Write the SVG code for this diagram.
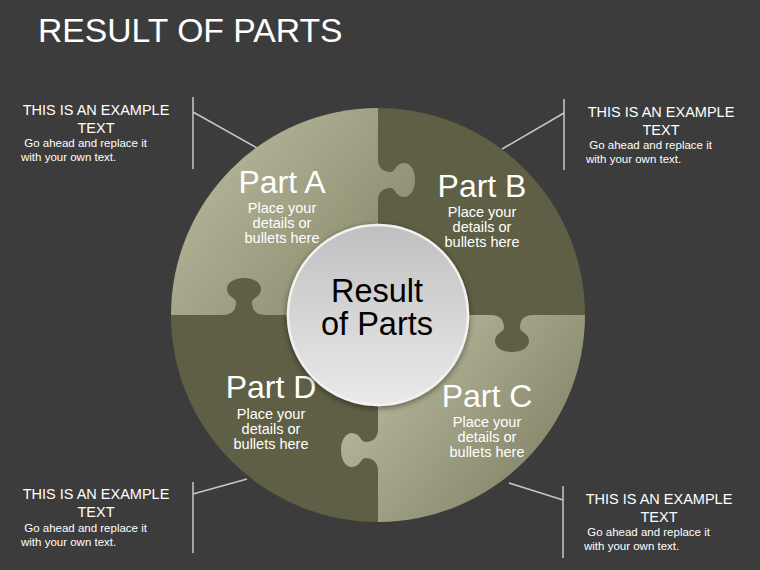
<svg xmlns="http://www.w3.org/2000/svg" width="760" height="570" viewBox="0 0 760 570">
<style>
text{font-family:"Liberation Sans",Arial,sans-serif;fill:#ffffff}
.title{font-size:33.7px}
.part{font-size:32px;text-anchor:middle}
.sub{font-size:14.5px;text-anchor:middle}
.hd{font-size:14.5px;text-anchor:middle}
.bd{font-size:11.5px}
.ctr{font-size:32.5px;text-anchor:middle;fill:#000000}
.lead{stroke:#c8c8c8;stroke-width:1.5;fill:none}
.dark{fill:#5f5f45}
</style>
<defs>
<linearGradient id="gA" gradientUnits="userSpaceOnUse" x1="200" y1="160" x2="380" y2="310">
<stop offset="0" stop-color="#b4b498"/>
<stop offset="1" stop-color="#88886b"/>
</linearGradient>
<linearGradient id="gC" gradientUnits="userSpaceOnUse" x1="400" y1="350" x2="570" y2="490">
<stop offset="0" stop-color="#b4b498"/>
<stop offset="1" stop-color="#7f7f63"/>
</linearGradient>
<linearGradient id="gM" x1="0" y1="0" x2="0" y2="1">
<stop offset="0" stop-color="#c0c0c0"/>
<stop offset="1" stop-color="#eaeaea"/>
</linearGradient>
<filter id="sh" x="-20%" y="-20%" width="140%" height="140%">
<feDropShadow dx="0" dy="2" stdDeviation="3" flood-color="#000" flood-opacity="0.45"/>
</filter>
</defs>
<rect x="0" y="0" width="760" height="570" fill="#3c3c3c"/>
<text class="title" x="38" y="42">RESULT OF PARTS</text>

<g id="connectors">
<path class="lead" d="M193,97 V169 M193,112 L257,148"/>
<path class="lead" d="M564,99 V170 M564,113 L502,149"/>
<path class="lead" d="M193,482 V553 M193,494 L247,479"/>
<path class="lead" d="M563,486 V558 M563,500 L509,483"/>
</g>

<g id="partA">
<path d="M378,315 L171,315 A207,207 0 0 1 378,108 Z" fill="url(#gA)"/>
</g>
<g id="partB">
<path class="dark" d="M378,315 L378,108 A207,207 0 0 1 585,315 Z"/>
</g>
<g id="partC">
<path d="M378,315 L585,315 A207,207 0 0 1 378,522 Z" fill="url(#gC)"/>
</g>
<g id="partD">
<path class="dark" d="M378,315 L378,522 A207,207 0 0 1 171,315 Z"/>
</g>
<g id="tabs">
<path d="M377,159 L378,159 C378,168 383,172 391,172 C395,172 396,163 404,163 C411,163 415,171 415,180 C415,189 411,197 404,197 C396,197 395,188 391,188 C383,188 378,192 378,201 L377,201 Z" fill="url(#gA)"/>
<path class="dark" d="M533,314 L533,315 C524,315 520,320 520,328 C520,332 529,333 529,341 C529,348 521,352 512,352 C503,352 495,348 495,341 C495,333 504,332 504,328 C504,320 500,315 491,315 L491,314 Z"/>
<path d="M379,471 L378,471 C378,462 373,458 365,458 C361,458 360,467 352,467 C345,467 341,459 341,450 C341,441 345,433 352,433 C360,433 361,442 365,442 C373,442 378,438 378,429 L379,429 Z" fill="url(#gC)"/>
<path class="dark" d="M223,316 L223,315 C232,315 236,310 236,302 C236,298 227,297 227,289 C227,282 235,278 244,278 C253,278 261,282 261,289 C261,297 252,298 252,302 C252,310 256,315 265,315 L265,316 Z"/>
</g>

<g id="labelA">
<text class="part" x="282" y="193">Part A</text>
<text class="sub" x="282" y="213">Place your</text>
<text class="sub" x="282" y="228">details or</text>
<text class="sub" x="282" y="243">bullets here</text>
</g>
<g id="labelB">
<text class="part" x="482" y="197">Part B</text>
<text class="sub" x="482" y="217">Place your</text>
<text class="sub" x="482" y="232">details or</text>
<text class="sub" x="482" y="247">bullets here</text>
</g>
<g id="labelC">
<text class="part" x="487" y="407">Part C</text>
<text class="sub" x="487" y="427">Place your</text>
<text class="sub" x="487" y="442">details or</text>
<text class="sub" x="487" y="457">bullets here</text>
</g>
<g id="labelD">
<text class="part" x="271" y="398">Part D</text>
<text class="sub" x="271" y="419">Place your</text>
<text class="sub" x="271" y="434">details or</text>
<text class="sub" x="271" y="449">bullets here</text>
</g>

<g id="center">
<circle cx="378" cy="315" r="90" fill="url(#gM)" stroke="#f2f2f2" stroke-width="2.5" filter="url(#sh)"/>
<text class="ctr" x="377" y="302">Result</text>
<text class="ctr" x="377" y="335">of Parts</text>
</g>

<g id="noteTL">
<text class="hd" x="96" y="115">THIS IS AN EXAMPLE</text>
<text class="hd" x="96" y="133">TEXT</text>
<text class="bd" x="21" y="147" xml:space="preserve"> Go ahead and replace it</text>
<text class="bd" x="21" y="161">with your own text.</text>
</g>
<g id="noteTR">
<text class="hd" x="661" y="117">THIS IS AN EXAMPLE</text>
<text class="hd" x="661" y="135">TEXT</text>
<text class="bd" x="586" y="149" xml:space="preserve"> Go ahead and replace it</text>
<text class="bd" x="586" y="163">with your own text.</text>
</g>
<g id="noteBL">
<text class="hd" x="96" y="499">THIS IS AN EXAMPLE</text>
<text class="hd" x="96" y="517">TEXT</text>
<text class="bd" x="21" y="532" xml:space="preserve"> Go ahead and replace it</text>
<text class="bd" x="21" y="546">with your own text.</text>
</g>
<g id="noteBR">
<text class="hd" x="659" y="504">THIS IS AN EXAMPLE</text>
<text class="hd" x="659" y="522">TEXT</text>
<text class="bd" x="584" y="536" xml:space="preserve"> Go ahead and replace it</text>
<text class="bd" x="584" y="550">with your own text.</text>
</g>
</svg>
